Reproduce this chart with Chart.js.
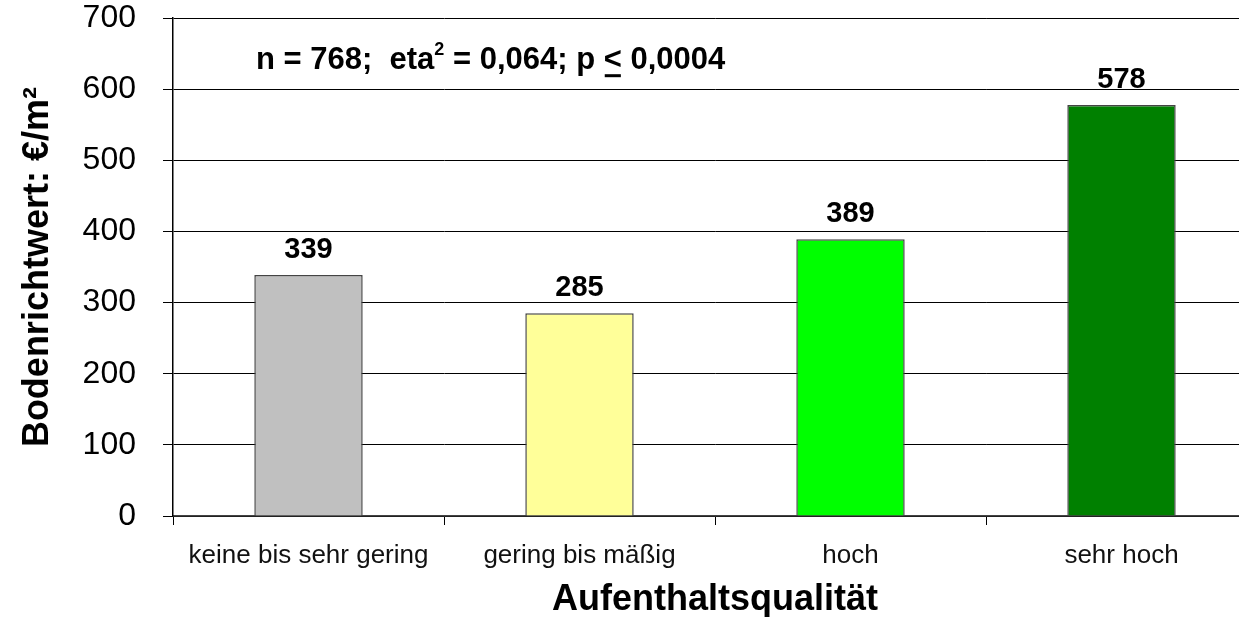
<!DOCTYPE html>
<html>
<head>
<meta charset="utf-8">
<script src="https://cdn.jsdelivr.net/npm/chart.js@4/dist/chart.umd.min.js"></script>
<style>
  html, body { margin: 0; padding: 0; background: #fff; overflow: hidden; }
  #rahmen { width: 1239px; height: 617px; overflow: hidden; }
  #wrap { width: 1266px; height: 645px; margin-top: -28px; }
</style>
</head>
<body>
<div id="rahmen"><div id="wrap"><canvas id="grafico"></canvas></div></div>
<script>
const kategorien = ["keine bis sehr gering", "gering bis mäßig", "hoch", "sehr hoch"];
const werte = [339, 285, 389, 578];
const farben = ["#c0c0c0", "#ffff99", "#00ff00", "#008000"];
const yTicks = [0, 100, 200, 300, 400, 500, 600, 700];

const schrift = "Arial, 'Liberation Sans', sans-serif";

// Werte über den Balken
const wertLabels = {
    id: "wertLabels",
    afterDatasetsDraw(chart) {
        const ctx = chart.ctx;
        const meta = chart.getDatasetMeta(0);
        ctx.save();
        ctx.font = "bold 29px " + schrift;
        ctx.fillStyle = "#000";
        ctx.textAlign = "center";
        ctx.textBaseline = "alphabetic";
        meta.data.forEach((bar, i) => {
            ctx.fillText(String(werte[i]), bar.x, bar.y - 17);
        });
        ctx.restore();
    }
};

// Statistik-Text oben links
const statistik = {
    id: "statistik",
    afterDraw(chart) {
        const ctx = chart.ctx;
        ctx.save();
        ctx.fillStyle = "#000";
        ctx.textBaseline = "alphabetic";
        ctx.textAlign = "left";
        let x = 256;
        const y = chart.chartArea.top + 51;
        const teile = [
            ["n = 768;  eta", 31, 0],
            ["2", 18, -14],
            [" = 0,064; p ", 31, 0],
            ["<", 31, 0, true],
            [" 0,0004", 31, 0]
        ];
        teile.forEach(([txt, size, dy, unter]) => {
            ctx.font = "bold " + size + "px " + schrift;
            ctx.fillText(txt, x, y + dy);
            const w = ctx.measureText(txt).width;
            if (unter) {
                ctx.fillRect(x + 1, y + 5, w - 2, 3);
            }
            x += w;
        });
        ctx.restore();
    }
};

new Chart(document.getElementById("grafico"), {
    type: "bar",
    data: {
        labels: kategorien,
        datasets: [{
            data: werte,
            backgroundColor: farben,
            borderColor: "#444444",
            borderWidth: 1.5,
            categoryPercentage: 1,
            barPercentage: 0.4
        }]
    },
    options: {
        responsive: true,
        maintainAspectRatio: false,
        animation: false,
        layout: { padding: { top: 1, right: 9, left: 0, bottom: 0 } },
        plugins: {
            legend: { display: false },
            tooltip: { enabled: false }
        },
        scales: {
            x: {
                offset: true,
                grid: {
                    offset: true,
                    drawOnChartArea: false,
                    drawTicks: true,
                    tickLength: 9,
                    color: "#000"
                },
                border: { color: "#444", width: 1.5 },
                ticks: {
                    color: "#111",
                    font: { family: schrift, size: 26 },
                    padding: 15,
                    maxRotation: 0
                },
                title: {
                    display: true,
                    text: "Aufenthaltsqualität",
                    color: "#000",
                    font: { family: schrift, size: 36, weight: "bold" },
                    padding: { top: 0, bottom: -5 }
                },
                afterFit: s => { s.height = 101; }
            },
            y: {
                min: 0,
                max: 700,
                afterBuildTicks: s => { s.ticks = yTicks.map(v => ({ value: v })); },
                grid: {
                    color: "#000",
                    lineWidth: 1,
                    tickLength: 10,
                    drawTicks: true
                },
                border: { color: "#000", width: 1.5 },
                ticks: {
                    color: "#000",
                    font: { family: schrift, size: 32 },
                    padding: 27
                },
                title: {
                    display: true,
                    text: "Bodenrichtwert: €/m²",
                    color: "#000",
                    font: { family: schrift, size: 36, weight: "bold" },
                    padding: { top: 16, bottom: 0 }
                },
                afterFit: s => { s.width = 173; }
            }
        }
    },
    plugins: [wertLabels, statistik]
});
</script>
</body>
</html>
